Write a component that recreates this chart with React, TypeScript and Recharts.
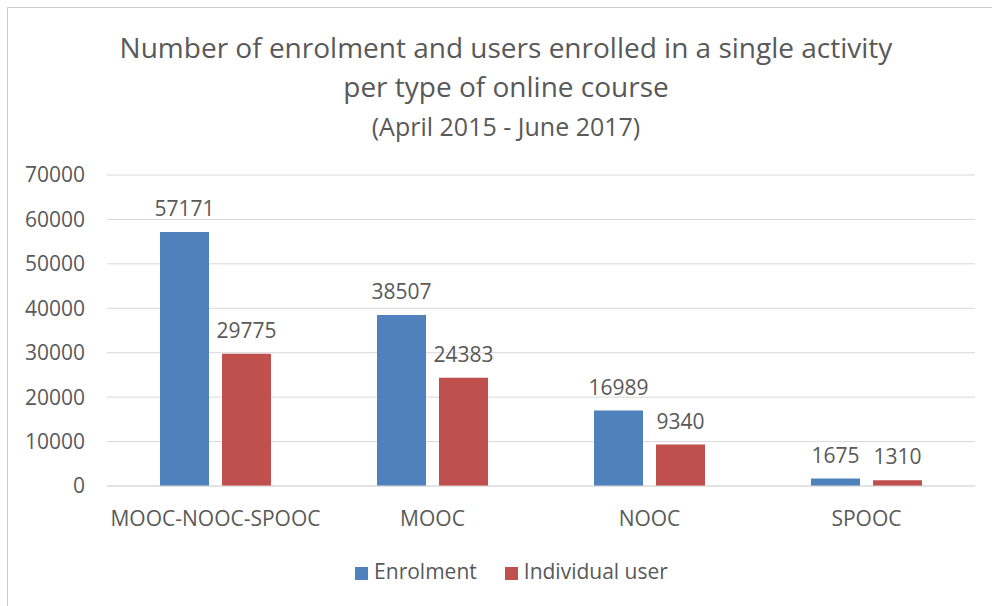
import { BarChart, Bar, XAxis, YAxis, CartesianGrid, Legend, LabelList } from "recharts";

const categories = ["MOOC-NOOC-SPOOC", "MOOC", "NOOC", "SPOOC"];
const enrolment = [57171, 38507, 16989, 1675];
const individualUser = [29775, 24383, 9340, 1310];
const yTicks = [0, 10000, 20000, 30000, 40000, 50000, 60000, 70000];

const data = categories.map((c, i) => ({ name: c, enrolment: enrolment[i], user: individualUser[i] }));

const FONT = "'Open Sans', sans-serif";
const TXT = "#595959";

export default function App() {
  return (
    <div style={{ position: "absolute", left: 7, top: 7, width: 984, height: 598, borderLeft: "1px solid #cccccc", borderTop: "1px solid #cccccc", overflow: "hidden", fontFamily: FONT, color: TXT, background: "#fff" }}>
      <div style={{ position: "absolute", left: 0, top: 0, width: 996, textAlign: "center" }}>
        <div style={{ position: "absolute", top: 20, width: "100%", fontSize: 28 }}>Number of enrolment and users enrolled in a single activity</div>
        <div style={{ position: "absolute", top: 59, width: "100%", fontSize: 28 }}>per type of online course</div>
        <div style={{ position: "absolute", top: 101, width: "100%", fontSize: 25 }}>(April 2015 - June 2017)</div>
      </div>
      <BarChart width={984} height={598} data={data} margin={{ top: 167, right: 17, left: 24, bottom: 0 }} barGap={13}>
        <CartesianGrid vertical={false} stroke="#d9d9d9" />
        <XAxis dataKey="name" axisLine={{ stroke: "#d9d9d9" }} tickLine={false} tickSize={0} tickMargin={25}
          tick={{ fill: TXT, fontSize: 21, fontFamily: FONT }} height={71} />
        <YAxis ticks={yTicks} domain={[0, 70000]} axisLine={false} tickLine={false} tickSize={0} tickMargin={22}
          tick={{ fill: TXT, fontSize: 21, fontFamily: FONT }} width={75} />
        <Legend verticalAlign="bottom" iconType="square" iconSize={13} height={49}
          wrapperStyle={{ fontFamily: FONT, fontSize: 21, left: 46 }}
          formatter={(v) => <span style={{ color: TXT, marginRight: 18, marginLeft: 2 }}>{v}</span>} />
        <Bar dataKey="enrolment" name="Enrolment" fill="#4f81bd" barSize={49} isAnimationActive={false}>
          <LabelList dataKey="enrolment" position="top" offset={16} fill={TXT} fontSize={21} fontFamily={FONT} />
        </Bar>
        <Bar dataKey="user" name="Individual user" fill="#c0504d" barSize={49} isAnimationActive={false}>
          <LabelList dataKey="user" position="top" offset={16} fill={TXT} fontSize={21} fontFamily={FONT} />
        </Bar>
      </BarChart>
    </div>
  );
}
